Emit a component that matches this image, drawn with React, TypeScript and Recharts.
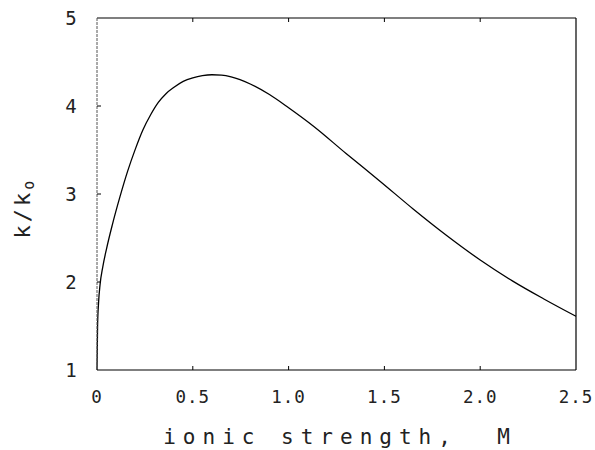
import React from "react"
import { LineChart, Line, XAxis, YAxis } from "recharts"

// ionic strength (M) and k/k0
const ionicStrength = [
  0, 0.003, 0.008, 0.016, 0.03, 0.05, 0.08, 0.12, 0.16, 0.2, 0.24, 0.28, 0.32, 0.36, 0.4,
  0.45, 0.5, 0.55, 0.6, 0.65, 0.7, 0.8, 0.9, 1.0, 1.13, 1.3, 1.48, 1.65, 1.83, 2.0, 2.17,
  2.33, 2.5,
]
const rateRatio = [
  1.0, 1.5, 1.76, 1.97, 2.17, 2.38, 2.65, 2.97, 3.26, 3.51, 3.73, 3.9, 4.04, 4.14, 4.21,
  4.28, 4.32, 4.345, 4.355, 4.35, 4.33, 4.25, 4.13, 3.98, 3.77, 3.46, 3.14, 2.83, 2.52, 2.25,
  2.01, 1.81, 1.61,
]

const xTicks = [0, 0.5, 1.0, 1.5, 2.0, 2.5]
const xTickLabels = ["0", "0.5", "1.0", "1.5", "2.0", "2.5"]
const yTicks = [1, 2, 3, 4, 5]
const yTickLabels = ["1", "2", "3", "4", "5"]

const FONT = "'DejaVu Sans Mono', monospace"
const INK = "#222"

const data = ionicStrength.map((x, i) => ({ x, y: rateRatio[i] }))

const BottomTick = (props: any) => {
  const { x, y, payload, index } = props
  return (
    <g>
      {index > 0 && index < xTicks.length - 1 && (
        <line x1={x} y1={y} x2={x} y2={y - 4} stroke="#000" />
      )}
      <text
        x={x}
        y={y + 28}
        textAnchor="middle"
        dominantBaseline="middle"
        fontFamily={FONT}
        fontSize={17.5}
        letterSpacing={1}
        fill={INK}
      >
        {xTickLabels[xTicks.indexOf(payload.value)]}
      </text>
    </g>
  )
}

const TopTick = (props: any) => {
  const { x, y, index } = props
  if (index === 0 || index === xTicks.length - 1) return <g />
  return <line x1={x} y1={y} x2={x} y2={y + 4} stroke="#000" />
}

const LeftTick = (props: any) => {
  const { x, y, payload, index } = props
  return (
    <g>
      {index > 0 && index < yTicks.length - 1 && (
        <line x1={x} y1={y} x2={x + 4} y2={y} stroke="#000" />
      )}
      <text
        x={x - 26}
        y={y + 1}
        textAnchor="middle"
        dominantBaseline="middle"
        fontFamily={FONT}
        fontSize={19}
        fill={INK}
      >
        {yTickLabels[yTicks.indexOf(payload.value)]}
      </text>
    </g>
  )
}

const RightTick = (props: any) => {
  const { x, y, index } = props
  if (index === 0 || index === yTicks.length - 1) return <g />
  return <line x1={x} y1={y} x2={x - 4} y2={y} stroke="#000" />
}

export default function App() {
  return (
    <div style={{ position: "absolute", left: 0, top: 0, width: 595, height: 450, background: "#fff" }}>
      <LineChart
        width={595}
        height={450}
        data={data}
        margin={{ top: 17, right: 18, bottom: 79, left: 96 }}
      >
        <XAxis
          dataKey="x"
          type="number"
          domain={[0, 2.5]}
          ticks={xTicks}
          height={1}
          tickSize={0}
          tickMargin={0}
          tickLine={false}
          axisLine={{ stroke: "#000", strokeWidth: 1.2 }}
          tick={<BottomTick />}
          interval={0}
          label={{
            content: () => (
              <text
                x={340}
                y={438}
                textAnchor="middle"
                dominantBaseline="middle"
                fontFamily={FONT}
                fontSize={21}
                letterSpacing={7}
                fill={INK}
                xmlSpace="preserve"
              >
                ionic strength,  M
              </text>
            ),
          }}
        />
        <XAxis
          xAxisId="top"
          orientation="top"
          dataKey="x"
          type="number"
          domain={[0, 2.5]}
          ticks={xTicks}
          height={1}
          tickSize={0}
          tickMargin={0}
          tickLine={false}
          axisLine={{ stroke: "#000", strokeWidth: 1.2 }}
          tick={<TopTick />}
          interval={0}
        />
        <YAxis
          type="number"
          domain={[1, 5]}
          ticks={yTicks}
          width={1}
          tickSize={0}
          tickMargin={0}
          tickLine={false}
          axisLine={{ stroke: "#555", strokeWidth: 1, strokeDasharray: "3 1" }}
          tick={<LeftTick />}
          interval={0}
          label={{
            content: () => (
              <text
                x={24}
                y={208}
                transform="rotate(-90 24 208)"
                textAnchor="middle"
                dominantBaseline="middle"
                fontFamily={FONT}
                fontSize={22}
                letterSpacing={3}
                fill={INK}
              >
                k/k
                <tspan fontSize={15} dy={5}>o</tspan>
              </text>
            ),
          }}
        />
        <YAxis
          yAxisId="right"
          orientation="right"
          type="number"
          domain={[1, 5]}
          ticks={yTicks}
          width={1}
          tickSize={0}
          tickMargin={0}
          tickLine={false}
          axisLine={{ stroke: "#000", strokeWidth: 1.2 }}
          tick={<RightTick />}
          interval={0}
        />
        <Line
          type="monotone"
          dataKey="y"
          stroke="#000"
          strokeWidth={1.3}
          dot={false}
          isAnimationActive={false}
        />
      </LineChart>
    </div>
  )
}
